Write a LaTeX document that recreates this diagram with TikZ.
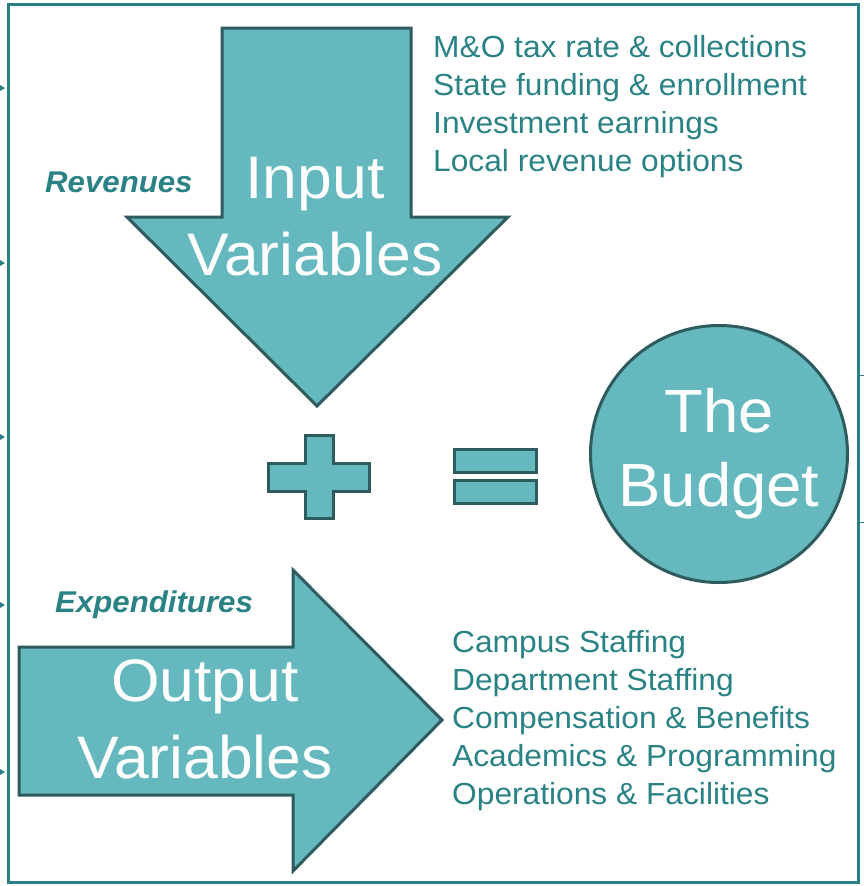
\documentclass[tikz,border=0pt]{standalone}
\usepackage{fontspec}
\setmainfont{Liberation Sans}[FakeStretch=1.04]
\usepackage{xcolor}
\definecolor{frameteal}{HTML}{2B8083}
\definecolor{blockfill}{HTML}{64B8BE}
\definecolor{blockline}{HTML}{2E5C5E}
\definecolor{listteal}{HTML}{2A8285}
\tikzset{
  block/.style={fill=blockfill,draw=blockline,line width=3pt,line join=miter},
  bigtext/.style={text=white,align=center,inner sep=0pt,font=\fontsize{60}{77}\selectfont},
  listtext/.style={text=listteal,align=left,inner sep=0pt,anchor=north west,font=\fontsize{30.5}{38}\selectfont},
  sidelabel/.style={text=listteal,inner sep=0pt,anchor=base west,font=\fontsize{30}{36}\selectfont\bfseries\itshape},
  edgetick/.style={fill=frameteal,draw=none}
}

\begin{document}
\begin{tikzpicture}[x=1pt,y=-1pt]
    \useasboundingbox (0,0) rectangle (864,886);
    % frame and the cut-off marks at its sides
    \draw[frameteal,line width=3pt] (8,4) rectangle (858,882);
    \foreach \ty in {88,263,437,605,772}
      \fill[edgetick] (0,\ty-3) -- (5,\ty) -- (0,\ty+3) -- cycle;
    \foreach \ty in {375,522}
      \draw[frameteal,line width=1pt] (858,\ty) -- (864,\ty);
    % revenues come down
    \draw[block] (222,28) -- (411,28) -- (411,217) -- (508,217) -- (317,406)
      -- (127,217) -- (222,217) -- cycle;
    \node[bigtext] (input) at (315,217) {Input\\Variables};
    \node[sidelabel] (revenues) at (45,192) {Revenues};
    \node[listtext] (revlist) at (433,35) {M\&O tax rate \& collections\\State funding \& enrollment\\Investment earnings\\Local revenue options};
    % expenditures go out
    \draw[block] (19,647) -- (293,647) -- (293,570) -- (442,720) -- (293,871)
      -- (293,795) -- (19,795) -- cycle;
    \node[bigtext] (output) at (205,719) {Output\\Variables};
    \node[sidelabel] (expenditures) at (55,612) {Expenditures};
    \node[listtext] (explist) at (452,630) {Campus Staffing\\Department Staffing\\Compensation \& Benefits\\Academics \& Programming\\Operations \& Facilities};
    % plus, equals, budget
    \draw[block] (305,435) -- (333,435) -- (333,463) -- (369,463) -- (369,491)
      -- (333,491) -- (333,518) -- (305,518) -- (305,491) -- (268,491)
      -- (268,463) -- (305,463) -- cycle;
    \draw[block] (454,449) rectangle (536,472);
    \draw[block] (454,480) rectangle (536,503);
    \node[block,circle,minimum size=257pt,bigtext,font=\fontsize{61}{74}\selectfont] (budget) at (719,454) {The\\Budget};
  \end{tikzpicture}
\end{document}
